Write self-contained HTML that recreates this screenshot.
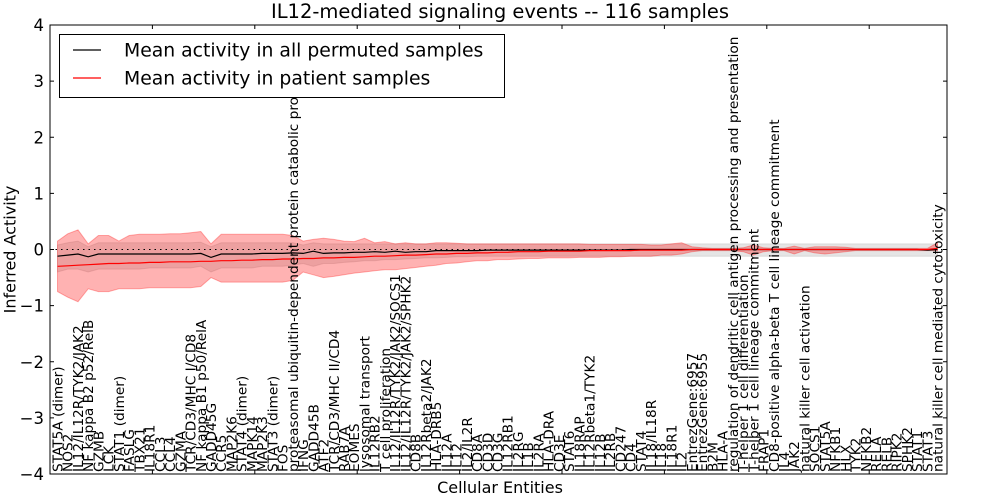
<!DOCTYPE html>
<html><head><meta charset="utf-8"><style>
body{margin:0;background:#fff;}
svg{display:block;font-family:"DejaVu Sans","Liberation Sans",sans-serif;}
</style></head><body>
<svg id="chart" width="1000" height="500" viewBox="0 0 1000 500">
<defs><clipPath id="plotclip"><rect x="50" y="25" width="897" height="449"/></clipPath></defs>
</svg>
<script>
const labels=["STAT5A (dimer)","NOS2","IL12/IL12R/TYK2/JAK2","NF kappa B2 p52/RelB","GZMB","LCK","STAT1 (dimer)","FASLG","TBX21","IL18R1","CCL3","CCL4","GZMA","TCR/CD3/MHC I/CD8","NF kappa B1 p50/RelA","GADD45G","CCR5","MAP2K6","STAT4 (dimer)","MAPK14","MAP2K3","STAT3 (dimer)","FOS","proteasomal ubiquitin-dependent protein catabolic process","IFNG","GADD45B","ATF2","TCR/CD3/MHC II/CD4","RAB7A","EOMES","lysosomal transport","IL12RB2","T cell proliferation","IL12/IL12R/TYK2/JAK2/SOCS1","IL12/IL12R/TYK2/JAK2/SPHK2","CD8B","IL12Rbeta2/JAK2","HLA-DRB5","IL12A","IL12","IL2/IL2R","CD8A","CD3D","CD3G","IL12RB1","IL2RG","IL1B","IL2RA","HLA-DRA","CD3E","STAT6","IL18RAP","IL12Rbeta1/TYK2","IL12B","IL2RB","CD247","CD4","STAT4","IL18/IL18R","IL18","IL18R1","IL2","EntrezGene:6957","EntrezGene:6955","B2M","HLA-A","regulation of dendritic cell antigen processing and presentation","T-helper 1 cell differentiation","T-helper 1 cell lineage commitment","FRAP1","CD8-positive alpha-beta T cell lineage commitment","IL4","JAK2","natural killer cell activation","SOCS1","STAT5A","NFKB1","HLX","TYK2","NFKB2","RELA","RELB","RIPK2","SPHK2","STAT1","STAT3","natural killer cell mediated cytotoxicity"];
const patMean=[-0.30,-0.29,-0.28,-0.27,-0.26,-0.25,-0.25,-0.24,-0.24,-0.23,-0.23,-0.22,-0.22,-0.22,-0.21,-0.21,-0.2,-0.2,-0.19,-0.19,-0.18,-0.18,-0.17,
-0.17,-0.16,-0.16,-0.15,-0.15,-0.14,-0.14,-0.13,-0.12,-0.12,-0.11,-0.1,-0.1,-0.09,-0.08,-0.08,-0.07,-0.07,-0.06,-0.06,-0.05,-0.05,-0.04,
-0.04,-0.04,-0.03,-0.03,-0.03,-0.03,-0.02,-0.02,-0.02,-0.02,-0.02,-0.01,-0.01,-0.01,-0.01,-0.01,0,0,0,0,
0,0,0,0,0,0,0,0,0,0,0,0,0,0,0,0,0,0,0,0,0.02];
const permMean=[-0.12,-0.1,-0.08,-0.13,-0.08,-0.08,-0.08,-0.08,-0.08,-0.08,-0.08,-0.08,-0.08,-0.08,-0.07,-0.14,-0.08,-0.08,-0.08,-0.08,-0.07,-0.07,-0.07,
-0.06,-0.07,-0.03,-0.07,-0.06,-0.06,-0.05,-0.05,-0.04,-0.05,-0.03,-0.05,-0.04,-0.04,-0.02,-0.02,-0.02,-0.02,-0.02,-0.01,-0.01,-0.01,-0.01,
-0.01,-0.01,-0.01,-0.01,-0.01,-0.01,-0.01,-0.01,-0.01,-0.01,0,0,0,0,0,0,0,0,0,0,
0,0,0,0,0,0,0,0,0,0,0,0,0,0,0,0,0,0,0,-0.01,0];
const patHi=[0.15,0.28,0.35,0.1,0.25,0.25,0.15,0.25,0.27,0.27,0.27,0.28,0.28,0.3,0.32,0.1,0.27,0.27,0.27,0.27,0.27,0.27,0.27,
0.25,0.15,0.18,0.2,0.18,0.15,0.14,0.2,0.12,0.14,0.1,0.12,0.1,0.1,0.12,0.12,0.11,0.1,0.1,0.1,0.1,0.1,0.1,
0.1,0.1,0.1,0.1,0.1,0.1,0.09,0.09,0.09,0.09,0.09,0.09,0.08,0.08,0.1,0.12,0.05,0.03,0.02,0.02,
0.02,0.03,0.08,0.03,0.02,0.02,0.06,0.02,0.05,0.05,0.05,0.04,0.02,0.02,0.02,0.02,0.02,0.02,0.02,0.02,0.12];
const patLo=[-0.75,-0.85,-0.93,-0.7,-0.75,-0.75,-0.7,-0.7,-0.7,-0.68,-0.68,-0.68,-0.68,-0.68,-0.66,-0.5,-0.58,-0.58,-0.58,-0.58,-0.58,-0.58,-0.58,
-0.55,-0.4,-0.45,-0.5,-0.48,-0.45,-0.42,-0.4,-0.38,-0.36,-0.36,-0.34,-0.32,-0.3,-0.28,-0.25,-0.24,-0.22,-0.2,-0.2,-0.18,-0.18,-0.17,
-0.16,-0.16,-0.15,-0.15,-0.15,-0.14,-0.14,-0.14,-0.13,-0.13,-0.12,-0.12,-0.12,-0.1,-0.1,-0.08,-0.04,-0.02,-0.02,-0.02,
-0.02,-0.04,-0.1,-0.04,-0.02,-0.02,-0.08,-0.02,-0.06,-0.08,-0.06,-0.04,-0.02,-0.02,-0.02,-0.02,-0.02,-0.02,-0.02,-0.02,-0.02];
const permHi=[0.08,0.12,0.15,0.05,0.12,0.12,0.12,0.12,0.12,0.12,0.12,0.12,0.12,0.12,0.13,0.05,0.12,0.12,0.12,0.12,0.12,0.12,0.12,
0.12,0.08,0.12,0.1,0.1,0.1,0.1,0.1,0.1,0.1,0.1,0.1,0.1,0.1,0.1,0.1,0.1,0.1,0.1,0.1,0.1,0.1,0.1,
0.1,0.1,0.1,0.1,0.1,0.1,0.1,0.1,0.1,0.1,0.1,0.1,0.1,0.1,0.1,0.1,0.1,0.1,0.1,0.1,
0.1,0.1,0.1,0.1,0.1,0.1,0.1,0.1,0.1,0.1,0.1,0.1,0.1,0.1,0.1,0.1,0.1,0.1,0.1,0.1,0.1];
const permLo=[-0.4,-0.35,-0.35,-0.4,-0.35,-0.35,-0.35,-0.35,-0.35,-0.33,-0.33,-0.33,-0.33,-0.33,-0.3,-0.4,-0.33,-0.33,-0.33,-0.33,-0.3,-0.3,-0.3,
-0.28,-0.25,-0.3,-0.25,-0.25,-0.23,-0.22,-0.2,-0.2,-0.18,-0.18,-0.17,-0.16,-0.15,-0.15,-0.14,-0.13,-0.13,-0.12,-0.12,-0.12,-0.12,-0.12,
-0.12,-0.12,-0.12,-0.12,-0.12,-0.12,-0.12,-0.12,-0.12,-0.12,-0.12,-0.12,-0.12,-0.12,-0.12,-0.12,-0.12,-0.12,-0.12,-0.12,
-0.12,-0.12,-0.12,-0.12,-0.12,-0.12,-0.12,-0.12,-0.12,-0.12,-0.12,-0.12,-0.12,-0.12,-0.12,-0.12,-0.12,-0.12,-0.12,-0.12,-0.12];
const yTicks=[-4,-3,-2,-1,0,1,2,3,4];

const L=50,R=947,T=25,B=474;
const xS=i=>57.5+i*(880/86);
const yS=v=>T+(4-v)*(B-T)/8;
const NS="http://www.w3.org/2000/svg";
const svg=document.getElementById('chart');
function mk(tag,attrs,parent){const e=document.createElementNS(NS,tag);for(const k in attrs)e.setAttribute(k,attrs[k]);(parent||svg).appendChild(e);return e;}
function band(hi,lo){let d='';hi.forEach((v,i)=>d+=(i?'L':'M')+xS(i).toFixed(1)+','+yS(v).toFixed(1));for(let i=lo.length-1;i>=0;i--)d+='L'+xS(i).toFixed(1)+','+yS(lo[i]).toFixed(1);return d+'Z';}
function line(a){return a.map((v,i)=>(i?'L':'M')+xS(i).toFixed(1)+','+yS(v).toFixed(1)).join('');}

let e;
e=mk('path',{d:band(permHi,permLo),fill:'rgba(150,150,150,0.25)',stroke:'rgba(150,150,150,0.25)','stroke-width':1});


e=mk('path',{d:band(patHi,patLo),fill:'rgba(255,0,0,0.3)',stroke:'rgba(255,0,0,0.3)','stroke-width':1});


e=mk('line',{x1:L,x2:R,y1:yS(0),y2:yS(0),stroke:'#000','stroke-dasharray':'1.5,4','stroke-width':1});


e=mk('path',{d:line(permMean),fill:'none',stroke:'#000','stroke-width':1.2});


e=mk('path',{d:line(patMean),fill:'none',stroke:'#ff0000','stroke-width':1.2});



const lblGroup=mk('g',{'clip-path':'url(#plotclip)'});
labels.forEach((t,i)=>{
  const x=xS(i)+5;
  const tx=mk('text',{x:x,y:472,transform:'rotate(-90 '+x+' 472)','font-size':13.7,fill:'#000'},lblGroup);
  tx.textContent=t;
  
  
});
e=mk('rect',{x:L,y:T,width:R-L,height:B-T,fill:'none',stroke:'#000','stroke-width':1});


for(let k=0;k*102.4+L<R;k++){const x=L+k*102.4;
  mk('line',{x1:x,x2:x,y1:T,y2:T+4,stroke:'#000'});mk('line',{x1:x,x2:x,y1:B,y2:B-4,stroke:'#000'});}
yTicks.forEach(v=>{const y=yS(v);
  mk('line',{x1:L,x2:L+4,y1:y,y2:y,stroke:'#000'});mk('line',{x1:R,x2:R-4,y1:y,y2:y,stroke:'#000'});
  const tx=mk('text',{x:44,y:y+6,'text-anchor':'end','font-size':16.5,fill:'#000'});
  tx.textContent=(v<0?'\u2212':'')+Math.abs(v);
  
  
});

// legend
const lg=mk('g',{});


mk('rect',{x:59.5,y:34.5,width:445,height:63,fill:'#fff',stroke:'#000','stroke-width':1},lg);
const legendItems=[["Mean activity in all permuted samples","#000",50],["Mean activity in patient samples","#ff0000",78]];
legendItems.forEach(it=>{
  const g=mk('g',{},lg);
  
  
  mk('line',{x1:73,x2:101,y1:it[2],y2:it[2],stroke:it[1],'stroke-width':1.3},g);
  const t=mk('text',{x:124,y:it[2]+6.5,'font-size':18.8,fill:'#000'},g);
  t.textContent=it[0];
});
</script>
<div style="position:absolute;left:0;top:0;width:1000px;height:500px;pointer-events:none;font-family:'DejaVu Sans','Liberation Sans',sans-serif;">
  <div style="position:absolute;left:0;width:1000px;top:0;text-align:center;font-size:19.5px;line-height:23px;">IL12-mediated signaling events -- 116 samples</div>
  <div style="position:absolute;left:50px;width:900px;top:478px;text-align:center;font-size:16px;line-height:19px;">Cellular Entities</div>
  <div style="position:absolute;left:-55px;top:240px;width:130px;text-align:center;font-size:16px;line-height:19px;transform:rotate(-90deg);">Inferred Activity</div>
</div>
</body></html>
